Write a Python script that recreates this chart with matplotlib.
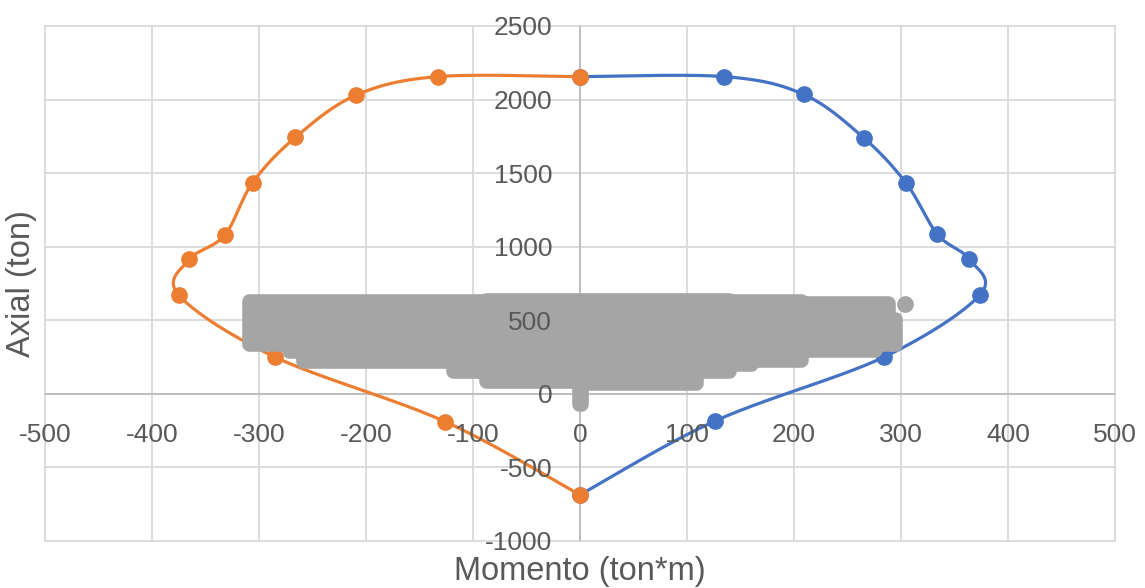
import numpy as np
import matplotlib
matplotlib.use("Agg")
import matplotlib.pyplot as plt
from matplotlib.patches import Polygon

# ---- data ----
# Interaction diagram, positive moment side (blue)
pos_M = [0, 135, 209, 265, 305, 334, 364, 374, 284, 126, 0]
pos_P = [2156, 2156, 2035, 1741, 1430, 1084, 914, 675, 250, -185, -687]
# Interaction diagram, negative moment side (orange)
neg_M = [0, -133, -209, -266, -306, -332, -365, -375, -285, -126, 0]
neg_P = [2156, 2156, 2031, 1743, 1435, 1079, 914, 671, 250, -189, -687]

# Demand points (grey cloud) described as step-wise columns: x start, lowest and highest point
cloud_M = [-309, -272, -259, -119, -88, -1, 1, 108, 139, 160, 207, 276, 288, 294]
cloud_lo = [338, 290, 225, 157, 89, -71, 77, 157, 200, 227, 296, 338, 338, 338]
cloud_hi = [630, 630, 630, 630, 635, 640, 640, 635, 630, 630, 620, 620, 506, 506]
extra_M = [304]
extra_P = [609]

x_ticks = list(range(-500, 501, 100))
y_ticks = list(range(-1000, 2501, 500))
x_title = "Momento (ton*m)"
y_title = "Axial (ton)"

BLUE = "#4472C4"
ORANGE = "#ED7D31"
GREY = "#A5A5A5"
TXT = "#595959"
GRID = "#D9D9D9"
AXL = "#BFBFBF"

plt.rcParams["font.family"] = ["Liberation Sans", "DejaVu Sans"]
plt.rcParams["axes.unicode_minus"] = False


def smooth(xs, ys, n=40):
    """Excel-like smoothed line (Catmull-Rom Bezier through the points)."""
    p = np.column_stack([xs, ys]).astype(float)
    ext = np.vstack([p[0], p, p[-1]])
    out = [p[0]]
    t = np.linspace(0, 1, n)[1:, None]
    for i in range(len(p) - 1):
        p0, p1, p2, p3 = ext[i], ext[i + 1], ext[i + 2], ext[i + 3]
        c1 = p1 + (p2 - p0) / 6.0
        c2 = p2 - (p3 - p1) / 6.0
        seg = ((1 - t) ** 3) * p1 + 3 * ((1 - t) ** 2) * t * c1 + 3 * (1 - t) * (t ** 2) * c2 + (t ** 3) * p2
        out.extend(seg)
    out = np.array(out)
    return out[:, 0], out[:, 1]


def step_outline(xs, lo, hi):
    """Outline of step-wise columns: x[i]..x[i+1] spans lo[i]..hi[i]."""
    top, bot = [], []
    for i in range(len(xs) - 1):
        top += [(xs[i], hi[i]), (xs[i + 1], hi[i])]
        bot += [(xs[i], lo[i]), (xs[i + 1], lo[i])]
    return top + bot[::-1]


fig = plt.figure(figsize=(11.45, 5.88), dpi=100)
ax = fig.add_axes([45 / 1145, 1 - 541 / 588, 1070 / 1145, 515 / 588])

ax.set_xlim(-500, 500)
ax.set_ylim(-1000, 2500)
ax.set_xticks(x_ticks)
ax.set_yticks(y_ticks)

# gridlines (drawn below data)
for v in x_ticks:
    ax.axvline(v, color=GRID, lw=1.3, zorder=0.5, clip_on=False)
for v in y_ticks:
    ax.axhline(v, color=GRID, lw=1.3, zorder=0.5, clip_on=False)
ax.axvline(0, color=AXL, lw=1.4, zorder=0.6)
ax.axhline(0, color=AXL, lw=1.4, zorder=0.6)

# spines: axis crosses at zero (invisible, used for label placement)
ax.spines["left"].set_position(("data", 0))
ax.spines["bottom"].set_position(("data", 0))
for s in ("left", "bottom", "top", "right"):
    ax.spines[s].set_visible(False)
ax.set_axisbelow(False)

ax.tick_params(axis="both", length=0, labelsize=19, labelcolor=TXT)
ax.tick_params(axis="x", pad=21)
ax.tick_params(axis="y", pad=20)

# series
bx, by = smooth(pos_M, pos_P)
ax.plot(bx, by, color=BLUE, lw=2.3, zorder=2, solid_capstyle="round")
ax.plot(pos_M, pos_P, "o", color=BLUE, ms=11, zorder=2.05)
ox, oy = smooth(neg_M, neg_P)
ax.plot(ox, oy, color=ORANGE, lw=2.3, zorder=2.1, solid_capstyle="round")
ax.plot(neg_M, neg_P, "o", color=ORANGE, ms=11, zorder=2.15)

# demand cloud (columns of grey markers, outline dilated by marker radius)
cloud = Polygon(step_outline(cloud_M, cloud_lo, cloud_hi), closed=True,
                facecolor=GREY, edgecolor=GREY, linewidth=10.5,
                joinstyle="round", zorder=2.2)
ax.add_patch(cloud)
ax.plot(extra_M, extra_P, "o", color=GREY, ms=11, zorder=2.2)

ax.set_xlabel(x_title, fontsize=23.5, color=TXT)
ax.set_ylabel(y_title, fontsize=23.5, color=TXT)
ax.xaxis.set_label_coords(0.5, -0.060)
ax.xaxis.label.set_verticalalignment("center")
ax.yaxis.set_label_coords(-0.0215, 0.5)
ax.yaxis.label.set_verticalalignment("center")

fig.savefig("out.png", dpi=100)
